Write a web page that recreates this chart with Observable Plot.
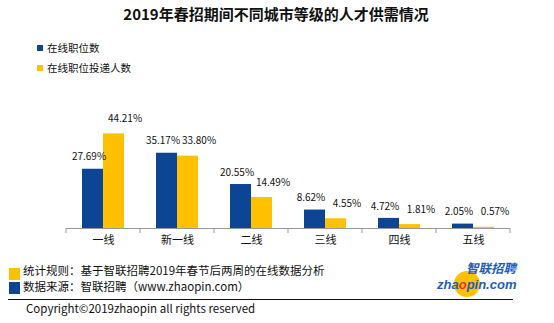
<!DOCTYPE html>
<html><head><meta charset="utf-8">
<script src="https://cdn.jsdelivr.net/npm/d3@7"></script>
<script src="https://cdn.jsdelivr.net/npm/@observablehq/plot@0.6"></script>
<style>
body{margin:0;background:#fff;}
#wrap{position:relative;width:554px;height:323px;overflow:hidden;background:#fff;font-family:"Noto Sans CJK SC","Noto Sans",sans-serif;color:#111;}
.abs{position:absolute;white-space:nowrap;}
#title{left:0;width:552px;top:3px;text-align:center;font-weight:bold;font-size:15px;line-height:22px;}
.sw{position:absolute;}
.lg{font-size:10.5px;line-height:14px;}
.ft{font-size:11.5px;line-height:15px;}
#chart{position:absolute;left:0;top:90px;}
</style></head>
<body><div id="wrap">
<div id="title" class="abs"></div>
<div id="legend"></div>
<div id="chart"></div>
<div id="footer"></div>
</div>
<script>
const title = "2019年春招期间不同城市等级的人才供需情况";
const cities = ["一线","新一线","二线","三线","四线","五线"];
const series = ["在线职位数","在线职位投递人数"];
const jobs = [27.69,35.17,20.55,8.62,4.72,2.05];
const applicants = [44.21,33.80,14.49,4.55,1.81,0.57];
const colors = ["#0b4594","#ffc000"];
const notes = ["统计规则：基于智联招聘2019年春节后两周的在线数据分析","数据来源：智联招聘（www.zhaopin.com）"];
const copyright = "Copyright©2019zhaopin all rights reserved";

const data = cities.flatMap((c,i)=>[
  {city:c, series:series[0], value:jobs[i]},
  {city:c, series:series[1], value:applicants[i]}
]);

document.getElementById("title").textContent = title;

// legend
const lg = document.getElementById("legend");
series.forEach((s,i)=>{
  const sq = document.createElement("div");
  sq.className="sw"; sq.style.cssText=`left:37px;top:${45+i*20}px;width:6px;height:6px;background:${colors[i]}`;
  lg.appendChild(sq);
  const t = document.createElement("div");
  t.className="abs lg"; t.style.left="47px"; t.style.top=(41+i*20)+"px"; t.textContent=s;
  lg.appendChild(t);
});

const fmt = d=>d.value.toFixed(2)+"%";
const plot = Plot.plot({
  width:554, height:160,
  marginTop:31, marginBottom:22, marginLeft:63, marginRight:42,
  fx:{domain:cities, padding:0, label:null, tickSize:0, tickPadding:8},
  x:{domain:series, paddingInner:0, paddingOuter:0.74, axis:null},
  y:{domain:[0,50], axis:null},
  color:{domain:series, range:colors},
  style:{fontFamily:'"Noto Sans CJK SC","Noto Sans",sans-serif', fontSize:"11px", color:"#111", background:"transparent"},
  marks:[
    Plot.barY(data,{fx:"city", x:"series", y:"value", fill:"series"}),
    Plot.ruleY([0],{stroke:"#999"}),
    Plot.text(data.filter(d=>d.series===series[0]),{fx:"city", x:"series", y:"value", text:fmt, dx:-4, dy:-12, fontSize:10, fill:"#111"}),
    Plot.text(data.filter(d=>d.series===series[1]),{fx:"city", x:"series", y:"value", text:fmt, dx:11, dy:-15, fontSize:10, fill:"#111"})
  ]
});
document.getElementById("chart").appendChild(plot);

// tick marks at category boundaries
const fx = plot.scale("fx");
const y0 = plot.scale("y").apply(0);
const edges = cities.map(c=>fx.apply(c)).concat([fx.apply(cities[cities.length-1])+fx.bandwidth]);
d3.select(plot).append("g").attr("stroke","#999")
  .selectAll("line").data(edges).join("line")
  .attr("x1",d=>d).attr("x2",d=>d).attr("y1",y0).attr("y2",y0+5);

// footer
const ft = document.getElementById("footer");
[colors[1],colors[0]].forEach((c,i)=>{
  const sq=document.createElement("div");
  sq.className="sw"; sq.style.cssText=`left:9px;top:${268+i*14}px;width:11px;height:12px;background:${c}`;
  ft.appendChild(sq);
});
notes.forEach((n,i)=>{
  const t=document.createElement("div");
  t.className="abs ft"; t.style.left="23px"; t.style.top=(263+i*16)+"px"; t.textContent=n;
  ft.appendChild(t);
});
const line=document.createElement("div");
line.className="sw"; line.style.cssText="left:8px;top:299px;width:505px;height:1px;background:#111";
ft.appendChild(line);
const cp=document.createElement("div");
cp.className="abs ft"; cp.style.left="26px"; cp.style.top="301px"; cp.textContent=copyright;
ft.appendChild(cp);

// logo
const logo = d3.select("#wrap").append("svg").attr("width",90).attr("height",40)
  .style("position","absolute").style("left","432px").style("top","258px");
logo.append("circle").attr("cx",35).attr("cy",26).attr("r",13).attr("fill","#ffc000");
logo.append("text").attr("x",84).attr("y",15).attr("text-anchor","end")
  .attr("font-size",12.5).attr("font-weight","bold").attr("font-style","italic")
  .attr("fill","#1d5fb8").attr("font-family",'"Noto Sans CJK SC",sans-serif').text("智联招聘");
const t2 = logo.append("text").attr("x",5).attr("y",31)
  .attr("font-size",13).attr("font-weight","bold").attr("font-style","italic")
  .attr("fill","#1d5fb8").attr("font-family",'"Liberation Sans",sans-serif');
t2.append("tspan").text("zha");
t2.append("tspan").attr("fill","#e8332a").text("o");
t2.append("tspan").text("pin.com");
</script>
</body></html>
